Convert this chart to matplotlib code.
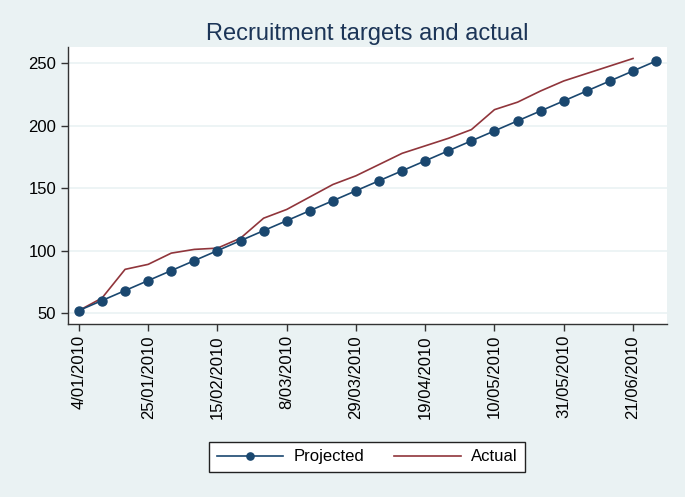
import matplotlib
matplotlib.use('Agg')
import matplotlib.pyplot as plt
import matplotlib.dates as mdates
import datetime as dt

plt.rcParams['font.family'] = ['Liberation Sans', 'DejaVu Sans']

# weekly dates from 4/01/2010
proj_dates = [dt.date(2010, 1, 4) + dt.timedelta(weeks=i) for i in range(26)]
projected = [52, 60, 68, 76, 84, 92, 100, 108, 116, 124, 132, 140, 148,
             156, 164, 172, 180, 188, 196, 204, 212, 220, 228, 236, 244, 252]

actual_dates = proj_dates[:25]
actual = [52, 62, 85, 89, 98, 101, 102, 110, 126, 133, 143, 153, 160,
          169, 178, 184, 190, 197, 213, 219, 228, 236, 242, 248, 254]

tick_dates = proj_dates[::3][:9]
tick_labels = ['4/01/2010', '25/01/2010', '15/02/2010', '8/03/2010', '29/03/2010',
               '19/04/2010', '10/05/2010', '31/05/2010', '21/06/2010']
y_ticks = [50, 100, 150, 200, 250]

bg = '#EAF2F3'
navy = '#1A476F'
maroon = '#90353B'

fig = plt.figure(figsize=(6.85, 4.97), dpi=100, facecolor=bg)
ax = fig.add_axes([0.0993, 0.3481, 0.8744, 0.5573])
ax.set_facecolor('white')

ax.plot(proj_dates, projected, color=navy, marker='o', markersize=6.5,
        linewidth=1.2, label='Projected', zorder=3)
ax.plot(actual_dates, actual, color=maroon, linewidth=1.2, label='Actual', zorder=2)

ax.set_xlim(mdates.date2num(proj_dates[0]) - 3.3, mdates.date2num(proj_dates[-1]) + 3.3)
ax.set_ylim(41.2, 263.2)

ax.set_yticks(y_ticks)
ax.set_xticks(tick_dates)
ax.set_xticklabels(tick_labels, rotation=90)
ax.tick_params(axis='both', labelsize=12, length=5, width=1, color='#333333',
               labelcolor='black', direction='out')
ax.tick_params(axis='x', pad=3)

ax.grid(axis='y', color=bg, linewidth=1.2)
ax.set_axisbelow(True)
for s in ['top', 'right']:
    ax.spines[s].set_visible(False)
for s in ['left', 'bottom']:
    ax.spines[s].set_color('#333333')
    ax.spines[s].set_linewidth(1)

fig.text(0.536, 0.932, 'Recruitment targets and actual', ha='center', va='center',
         fontsize=17, color='#1C3557')

leg = fig.legend(loc='center', bbox_to_anchor=(0.536, 0.0805), ncol=2, fontsize=12,
                 frameon=True, fancybox=False, handlelength=4.0, columnspacing=1.8,
                 borderpad=0.45, handletextpad=0.6, borderaxespad=0, markerscale=0.8)
leg.get_frame().set_edgecolor('#222222')
leg.get_frame().set_linewidth(1)
leg.get_frame().set_facecolor('white')
leg.get_frame().set_alpha(1)

fig.savefig('out.png', dpi=100, facecolor=bg)
